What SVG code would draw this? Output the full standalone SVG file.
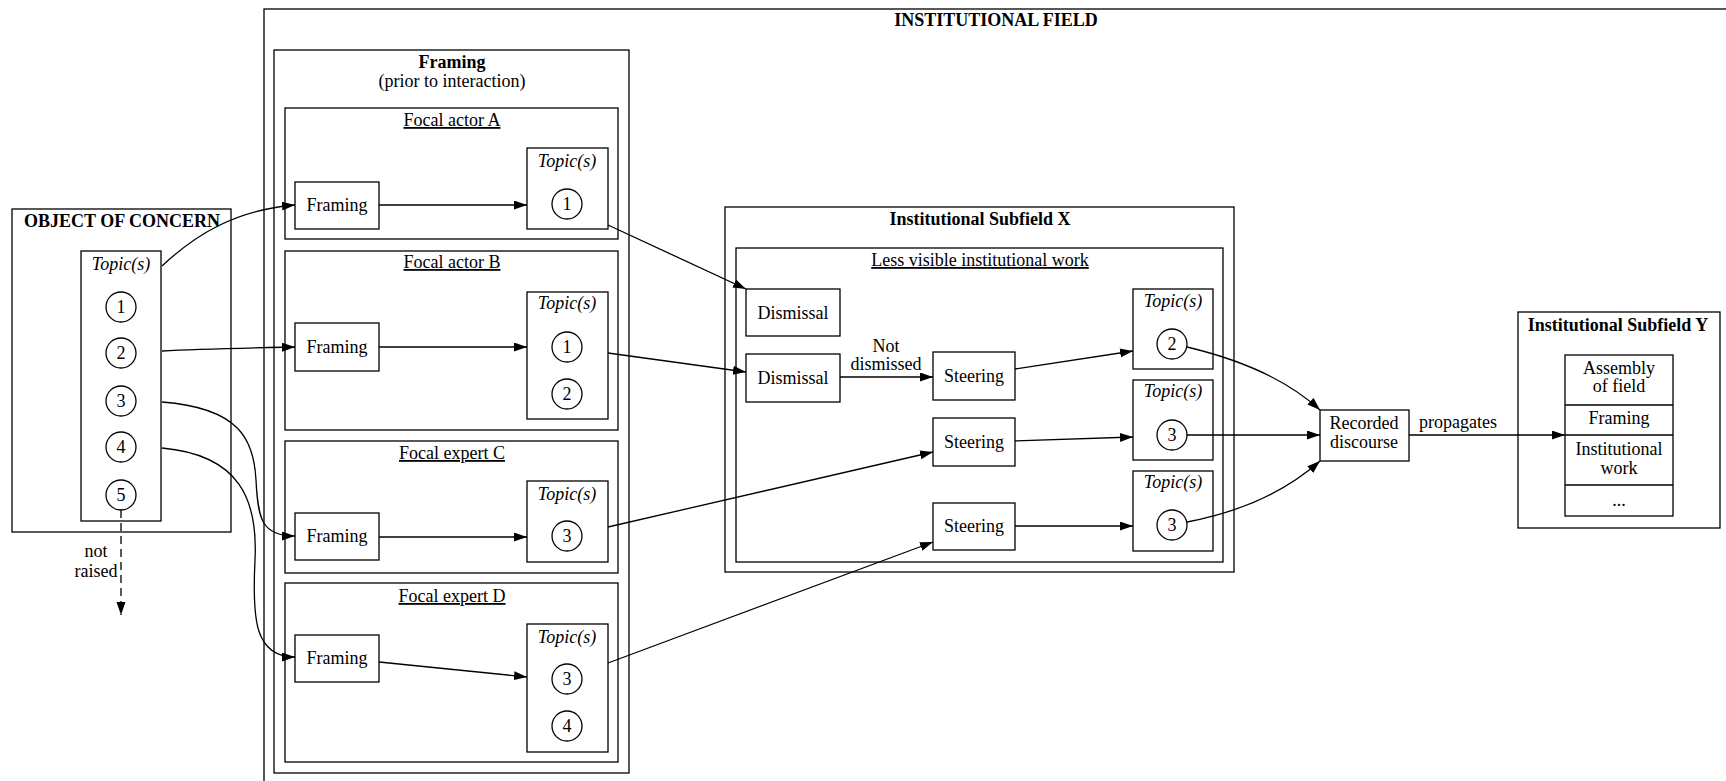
<svg xmlns="http://www.w3.org/2000/svg" width="1726" height="781" viewBox="0 0 1726 781">
<style>
  text { font-family: "Liberation Serif", "Times New Roman", serif; font-size: 18px; fill: #000; text-anchor: middle; }
  .b { font-weight: bold; }
  .i { font-style: italic; }
  .u { text-decoration: underline; }
  .box { fill: none; stroke: #000; stroke-width: 1.3; }
  .nd { fill: #fff; stroke: #000; stroke-width: 1.3; }
  .e { fill: none; stroke: #000; stroke-width: 1.3; marker-end: url(#ah); }
  .dash { stroke-dasharray: 8 5; }
</style>
<defs>
  <marker id="ah" markerUnits="userSpaceOnUse" markerWidth="14" markerHeight="10" refX="13" refY="4.5" orient="auto">
    <path d="M0,0 L13,4.5 L0,9 Z" fill="#000"/>
  </marker>
</defs>
<rect width="1726" height="781" fill="#fff"/>

<!-- clusters -->
<g id="institutional-field">
  <rect class="box" x="264" y="9" width="1500" height="800"/>
  <text class="b" x="996" y="26">INSTITUTIONAL FIELD</text>
</g>
<g id="object-of-concern">
  <rect class="box" x="12" y="209" width="219" height="323"/>
  <text class="b" x="122" y="227">OBJECT OF CONCERN</text>
  <g id="ooc-topics">
    <rect class="box" x="81" y="251" width="80" height="270"/>
    <text class="i" x="121" y="270">Topic(s)</text>
    <circle class="box" cx="121" cy="307" r="15"/><text x="121" y="313">1</text>
    <circle class="box" cx="121" cy="353" r="15"/><text x="121" y="359">2</text>
    <circle class="box" cx="121" cy="401" r="15"/><text x="121" y="407">3</text>
    <circle class="box" cx="121" cy="447" r="15"/><text x="121" y="453">4</text>
    <circle class="box" cx="121" cy="495" r="15"/><text x="121" y="501">5</text>
  </g>
</g>

<g id="framing-cluster">
  <rect class="box" x="274" y="50" width="355" height="723"/>
  <text class="b" x="452" y="68">Framing</text>
  <text x="452" y="87">(prior to interaction)</text>
</g>

<g id="focal-actor-a">
  <rect class="box" x="285" y="108" width="333" height="131"/>
  <text class="u" x="452" y="126">Focal actor A</text>
  <g id="framing-a"><rect class="box" x="295" y="182" width="84" height="47"/><text x="337" y="211">Framing</text></g>
  <g id="topics-a">
    <rect class="box" x="527" y="148" width="81" height="81"/>
    <text class="i" x="567" y="167">Topic(s)</text>
    <circle class="box" cx="567" cy="204" r="15"/><text x="567" y="210">1</text>
  </g>
</g>
<g id="focal-actor-b">
  <rect class="box" x="285" y="251" width="333" height="179"/>
  <text class="u" x="452" y="268">Focal actor B</text>
  <g id="framing-b"><rect class="box" x="295" y="323" width="84" height="48"/><text x="337" y="353">Framing</text></g>
  <g id="topics-b">
    <rect class="box" x="527" y="292" width="81" height="127"/>
    <text class="i" x="567" y="309">Topic(s)</text>
    <circle class="box" cx="567" cy="347" r="15"/><text x="567" y="353">1</text>
    <circle class="box" cx="567" cy="394" r="15"/><text x="567" y="400">2</text>
  </g>
</g>
<g id="focal-expert-c">
  <rect class="box" x="285" y="441" width="333" height="132"/>
  <text class="u" x="452" y="459">Focal expert C</text>
  <g id="framing-c"><rect class="box" x="295" y="513" width="84" height="47"/><text x="337" y="542">Framing</text></g>
  <g id="topics-c">
    <rect class="box" x="527" y="481" width="81" height="81"/>
    <text class="i" x="567" y="500">Topic(s)</text>
    <circle class="box" cx="567" cy="536" r="15"/><text x="567" y="542">3</text>
  </g>
</g>
<g id="focal-expert-d">
  <rect class="box" x="285" y="583" width="333" height="179"/>
  <text class="u" x="452" y="602">Focal expert D</text>
  <g id="framing-d"><rect class="box" x="295" y="635" width="84" height="47"/><text x="337" y="664">Framing</text></g>
  <g id="topics-d">
    <rect class="box" x="527" y="624" width="81" height="128"/>
    <text class="i" x="567" y="643">Topic(s)</text>
    <circle class="box" cx="567" cy="679" r="15"/><text x="567" y="685">3</text>
    <circle class="box" cx="567" cy="726" r="15"/><text x="567" y="732">4</text>
  </g>
</g>

<g id="subfield-x">
  <rect class="box" x="725" y="207" width="509" height="365"/>
  <text class="b" x="980" y="225">Institutional Subfield X</text>
</g>
<g id="less-visible">
  <rect class="box" x="736" y="248" width="487" height="314"/>
  <text class="u" x="980" y="266">Less visible institutional work</text>
  <g id="dismissal-1"><rect class="box" x="746" y="289" width="94" height="47"/><text x="793" y="319">Dismissal</text></g>
  <g id="dismissal-2"><rect class="box" x="746" y="354" width="94" height="48"/><text x="793" y="384">Dismissal</text></g>
  <g id="steering-1"><rect class="box" x="933" y="352" width="82" height="48"/><text x="974" y="382">Steering</text></g>
  <g id="steering-2"><rect class="box" x="933" y="418" width="82" height="48"/><text x="974" y="448">Steering</text></g>
  <g id="steering-3"><rect class="box" x="933" y="503" width="82" height="47"/><text x="974" y="532">Steering</text></g>
  <g id="topics-x1">
    <rect class="box" x="1133" y="289" width="80" height="80"/>
    <text class="i" x="1173" y="307">Topic(s)</text>
    <circle class="box" cx="1172" cy="344" r="15"/><text x="1172" y="350">2</text>
  </g>
  <g id="topics-x2">
    <rect class="box" x="1133" y="380" width="80" height="80"/>
    <text class="i" x="1173" y="397">Topic(s)</text>
    <circle class="box" cx="1172" cy="435" r="15"/><text x="1172" y="441">3</text>
  </g>
  <g id="topics-x3">
    <rect class="box" x="1133" y="471" width="80" height="80"/>
    <text class="i" x="1173" y="488">Topic(s)</text>
    <circle class="box" cx="1172" cy="525" r="15"/><text x="1172" y="531">3</text>
  </g>
</g>

<g id="recorded-discourse">
  <rect class="box" x="1320" y="410" width="89" height="51"/>
  <text x="1364" y="429">Recorded</text>
  <text x="1364" y="448">discourse</text>
</g>

<g id="subfield-y">
  <rect class="box" x="1518" y="312" width="202" height="216"/>
  <text class="b" x="1618" y="331">Institutional Subfield Y</text>
  <g id="record-y">
    <rect class="box" x="1565" y="355" width="108" height="161"/>
    <line class="box" x1="1565" y1="405" x2="1673" y2="405"/>
    <line class="box" x1="1565" y1="435" x2="1673" y2="435"/>
    <line class="box" x1="1565" y1="485" x2="1673" y2="485"/>
    <text x="1619" y="374">Assembly</text>
    <text x="1619" y="392">of field</text>
    <text x="1619" y="424">Framing</text>
    <text x="1619" y="455">Institutional</text>
    <text x="1619" y="474">work</text>
    <text x="1619" y="506">...</text>
  </g>
</g>

<g id="connectors">
  <path class="e" d="M162,266 C195,235 235,210 295,205"/>
  <path class="e" d="M162,351 C200,349 250,348 295,347"/>
  <path class="e" d="M162,402 C240,408 254,440 256,480 C258,520 262,536 295,536"/>
  <path class="e" d="M162,448 C240,455 258,500 255,560 C252,620 255,657 295,657"/>
  <path class="e dash" d="M121,510 L121,615"/>
  <text x="96" y="557">not</text>
  <text x="96" y="577">raised</text>

  <path class="e" d="M379,205 L527,205"/>
  <path class="e" d="M379,347 L527,347"/>
  <path class="e" d="M379,537 L527,537"/>
  <path class="e" d="M379,662 L527,677"/>

  <path class="e" d="M608,225 L746,289"/>
  <path class="e" d="M608,353 L746,372"/>
  <path class="e" d="M608,527 L933,452"/>
  <path class="e" d="M608,663 L933,542"/>

  <path class="e" d="M840,377 L933,377"/>
  <text x="886" y="352">Not</text>
  <text x="886" y="370">dismissed</text>
  <path class="e" d="M1015,369 L1133,351"/>
  <path class="e" d="M1015,441 L1133,437"/>
  <path class="e" d="M1015,526 L1133,526"/>

  <path class="e" d="M1187,347 C1250,362 1293,385 1320,410"/>
  <path class="e" d="M1187,435 L1320,435"/>
  <path class="e" d="M1187,522 C1250,510 1293,485 1320,461"/>

  <path class="e" d="M1409,435 L1565,435"/>
  <text x="1458" y="428">propagates</text>
</g>
</svg>
